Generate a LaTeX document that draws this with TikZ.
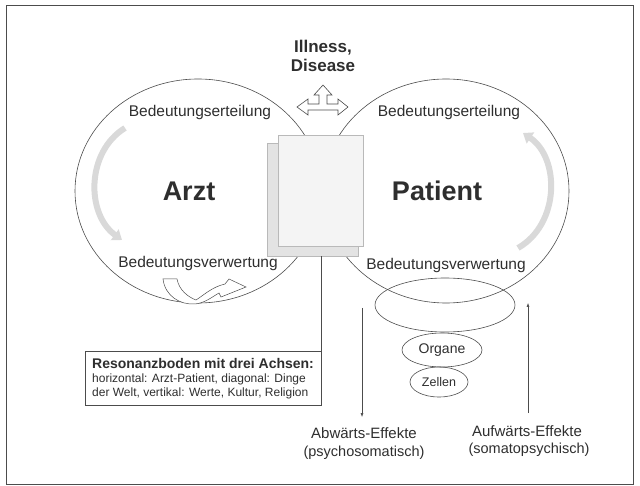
\documentclass[tikz,border=0pt]{standalone}
\usepackage{fontspec}
\setmainfont{Liberation Sans}
\usetikzlibrary{arrows.meta,shapes.geometric}

\definecolor{linie}{gray}{0.3}
\definecolor{schrift}{gray}{0.18}

\tikzset{
    ring/.style={draw=linie, line width=0.6pt},
    txt/.style={text=schrift, inner sep=0pt, anchor=base},
    gross/.style={txt, font=\fontsize{27}{30}\selectfont\bfseries},
    mittel/.style={txt, font=\fontsize{15.5}{18}\selectfont},
    blatt/.style={draw=gray!55, line width=0.4pt, inner sep=0pt, outer sep=0pt},
    kurve/.style={draw=gray!30, line width=6pt, -{Triangle[width=13pt,length=9pt]}},
    zelle/.style={ellipse, draw=linie, line width=0.6pt, inner sep=0pt, text=schrift},
    effekt/.style={draw=linie, line width=0.5pt, -{Latex[length=4pt,width=3pt]}}
}

\begin{document}
\begin{tikzpicture}[x=1pt, y=-1pt]
    \useasboundingbox (0,0) rectangle (640,486);

    % Draw the frame
    \draw[linie, line width=0.8pt] (6,5) rectangle (633,484);

    % Draw the two circles
    \draw[ring] (198,191) ellipse [x radius=123pt, y radius=112pt];
    \draw[ring] (446,191) ellipse [x radius=123pt, y radius=112pt];

    % Draw the sheets in the middle
    \node[blatt, fill=gray!22, minimum width=91pt, minimum height=113pt] (hinten) at (312.5,199.5) {};
    \node[blatt, fill=gray!9, minimum width=85pt, minimum height=111pt] (vorn) at (320.5,190.5) {};

    % Illness, Disease with the three way arrow
    \node[txt, font=\fontsize{17}{19}\selectfont\bfseries] (illness) at (323,53) {Illness,};
    \node[txt, font=\fontsize{17}{19}\selectfont\bfseries] (disease) at (323,72) {Disease};
    \draw[linie, line width=0.6pt, fill=white] (323,85) -- (332,95) -- (327,95) -- (327,104) -- (338,104)
        -- (338,99) -- (348,107) -- (338,115) -- (338,110) -- (308,110) -- (308,115) -- (297,107)
        -- (308,99) -- (308,104) -- (319,104) -- (319,95) -- (314,95) -- cycle;

    % Labels inside the circles
    \node[mittel] (erteilungA) at (200,117) {Bedeutungserteilung};
    \node[mittel] (erteilungP) at (449,117) {Bedeutungserteilung};
    \node[mittel] (verwertungA) at (198,268) {Bedeutungsverwertung};
    \node[mittel] (verwertungP) at (446,270) {Bedeutungsverwertung};
    \node[gross] (arzt) at (189,201) {Arzt};
    \node[gross] (patient) at (437,201) {Patient};

    % Gray curved arrows
    \draw[kurve] (125,128) .. controls (86,152) and (86,214) .. (122,240);
    \draw[kurve] (518,248) .. controls (560,224) and (560,158) .. (523,133);

    % Bent arrow below Arzt
    \draw[linie, line width=0.5pt, fill=white] (163,279) .. controls (165,296) and (180,305) .. (195,304)
        .. controls (205,303) and (212,297) .. (219,293) -- (221,297) -- (246,287) -- (229,279) -- (225,284)
        .. controls (212,287) and (204,295) .. (196,300) .. controls (188,297) and (179,290) .. (177,279) -- cycle;

    % Body levels below Patient
    \node[zelle, minimum width=140pt, minimum height=54pt] (psyche) at (445,305) {};
    \node[zelle, minimum width=80pt, minimum height=34pt, font=\fontsize{14}{16}\selectfont] (organe) at (442,350) {Organe};
    \node[zelle, minimum width=58pt, minimum height=30pt, font=\fontsize{12.5}{14}\selectfont] (zellen) at (439,382) {Zellen};

    % Resonanzboden box
    \node[draw=linie, line width=0.6pt, anchor=north west, minimum width=236pt, minimum height=54pt] (resonanz) at (85,351) {};
    \node[txt, anchor=base west, font=\fontsize{14}{16}\selectfont\bfseries] (achsen) at (92,368) {Resonanzboden mit drei Achsen:};
    \node[txt, anchor=base west, font=\fontsize{12}{14}\selectfont] (zeile1) at (92,382) {horizontal: Arzt-Patient, diagonal: Dinge};
    \node[txt, anchor=base west, font=\fontsize{12}{14}\selectfont] (zeile2) at (92,396) {der Welt, vertikal: Werte, Kultur, Religion};
    \draw[linie, line width=0.5pt] (resonanz.north east) -- (resonanz.north east |- hinten.south);

    % Effects up and down
    \coordinate (abw-oben) at (362,308);
    \coordinate (abw-unten) at (362,417);
    \coordinate (auf-unten) at (528,413);
    \coordinate (auf-oben) at (528,303);
    \draw[effekt] (abw-oben) -- (abw-unten);
    \draw[effekt] (auf-unten) -- (auf-oben);
    \node[mittel, font=\fontsize{15}{18}\selectfont] (abwaerts) at (364,438) {Abwärts-Effekte};
    \node[mittel, font=\fontsize{14.5}{18}\selectfont] (psychosom) at (364,456) {(psychosomatisch)};
    \node[mittel, font=\fontsize{15}{18}\selectfont] (aufwaerts) at (527,436) {Aufwärts-Effekte};
    \node[mittel, font=\fontsize{14.5}{18}\selectfont] (somatopsy) at (529,453) {(somatopsychisch)};

\end{tikzpicture}
\end{document}
